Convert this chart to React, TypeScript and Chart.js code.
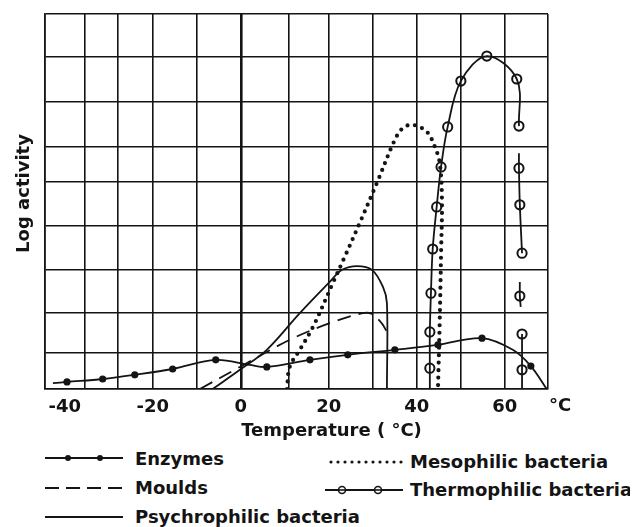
import React, { useEffect, useRef } from 'react';
import { Chart, registerables } from 'chart.js';

Chart.register(...registerables);

// ---- axis definitions ----
const xMin = -44.5;
const xMax = 69.8;
const gridTemps = [-35.5, -28, -20, -10, 0, 11, 20, 30, 40, 50, 60];
const labelTemps = [-40, -20, 0, 20, 40, 60];
const yMin = 0;
const yMax = 9;
const yGridLevels = [0, 0.86, 1.82, 2.86, 3.91, 4.97, 5.81, 6.89, 7.97, 9];

const xTitle = 'Temperature ( °C)';
const yTitle = 'Log activity';
const unitLabel = '°C';

// ---- series: Enzymes ----
const enzymeTemp = [-42.7, -39.5, -31.4, -24.1, -15.5, -5.7, 2.0, 5.9, 15.7, 24.3, 35.0, 44.8, 54.8, 61.8, 65.9, 69.5];
const enzymeAct = [0.14, 0.17, 0.24, 0.34, 0.48, 0.7, 0.58, 0.53, 0.7, 0.82, 0.94, 1.06, 1.22, 0.94, 0.55, 0];
const enzymeMeasured = [false, true, true, true, true, true, false, true, true, true, true, true, true, false, true, false];

// ---- series: Moulds ----
const mouldTemp = [-9.3, -0.2, 11.1, 20.2, 27.7, 29.8, 32.0, 33.2];
const mouldAct = [0, 0.53, 1.18, 1.58, 1.82, 1.8, 1.58, 1.37];

// ---- series: Psychrophilic bacteria ----
const psychroTemp = [-6.4, -0.2, 5.9, 13.4, 20.2, 23.0, 26.4, 29.8, 32.3, 33.2, 33.2];
const psychroAct = [0, 0.46, 0.94, 1.82, 2.57, 2.86, 2.95, 2.86, 2.45, 2.06, 0];

// ---- series: Mesophilic bacteria ----
const mesoTemp = [10.5, 11.1, 13.4, 16.4, 20.9, 23.6, 27.0, 30.9, 35.0, 36.8, 39.1, 42.3, 44.1, 45.2, 45.7, 45.5, 45.2, 44.8];
const mesoAct = [0, 0.53, 0.94, 1.49, 2.54, 3.17, 3.98, 4.94, 5.98, 6.26, 6.34, 6.17, 5.81, 5.42, 4.54, 3.26, 1.66, 0];

// ---- series: Thermophilic bacteria (null = break between drawn segments) ----
const thermoTemp = [42.95, 42.95, 42.95, 43.2, 43.6, 44.5, 45.5, 47.0, 50.0, 55.9, 62.7, 63.2, null, 63.2, 63.2, 63.4, 63.9, null, 63.4, 63.4, 63.6, null, 63.9, 63.9, 63.9];
const thermoAct = [0, 0.5, 1.37, 2.3, 3.36, 4.37, 5.33, 6.29, 7.39, 7.99, 7.44, 6.31, null, 5.66, 5.3, 4.42, 3.26, null, 2.57, 2.23, 1.97, null, 1.32, 0.46, 0];
const thermoMeasured = [false, true, true, true, true, true, true, true, true, true, true, true, false, false, true, true, true, false, false, true, false, false, true, true, false];

const legendNames = ['Enzymes', 'Moulds', 'Psychrophilic bacteria', 'Mesophilic bacteria', 'Thermophilic bacteria'];

const INK = '#141414';
const FONT = '"DejaVu Sans", sans-serif';

const toPoints = (xs: (number | null)[], ys: (number | null)[]) =>
  xs.map((x, i) => ({ x: x as any, y: ys[i] as any }));

const xTickValues = Array.from(new Set([xMin, ...gridTemps, ...labelTemps, xMax])).sort((a, b) => a - b);
const isGridTemp = (v: number) => v === xMin || v === xMax || gridTemps.includes(v);

const textPlugin = {
  id: 'extraText',
  afterDraw(chart: any) {
    const { ctx, chartArea } = chart;
    ctx.save();
    ctx.fillStyle = INK;
    ctx.font = `bold 18px ${FONT}`;
    ctx.textAlign = 'center';
    ctx.textBaseline = 'top';
    ctx.fillText(unitLabel, chartArea.right + 12, chartArea.bottom + 8);
    ctx.textBaseline = 'alphabetic';
    ctx.fillText(xTitle, (chartArea.left + chartArea.right) / 2 + 35, chartArea.bottom + 47);
    ctx.translate(16, (chartArea.top + chartArea.bottom) / 2 - 8);
    ctx.rotate(-Math.PI / 2);
    ctx.textBaseline = 'middle';
    ctx.fillText(yTitle, 0, 0);
    ctx.restore();
  },
};

function LegendText({ x, cy, text }: { x: number; cy: number; text: string }) {
  return (
    <span
      style={{
        position: 'absolute',
        left: x,
        top: cy - 11,
        lineHeight: '22px',
        fontSize: 18,
        fontWeight: 'bold',
        whiteSpace: 'nowrap',
      }}
    >
      {text}
    </span>
  );
}

export default function App() {
  const canvasRef = useRef<HTMLCanvasElement>(null);

  useEffect(() => {
    const canvas = canvasRef.current;
    if (!canvas) return;
    const chart = new Chart(canvas, {
      type: 'scatter',
      data: {
        datasets: [
          {
            label: legendNames[0],
            data: toPoints(enzymeTemp, enzymeAct),
            showLine: true,
            borderColor: INK,
            borderWidth: 1.8,
            tension: 0.35,
            pointRadius: enzymeMeasured.map((m) => (m ? 3.6 : 0)),
            pointBackgroundColor: INK,
            pointBorderColor: INK,
            pointBorderWidth: 0,
          },
          {
            label: legendNames[1],
            data: toPoints(mouldTemp, mouldAct),
            showLine: true,
            borderColor: INK,
            borderWidth: 1.8,
            borderDash: [14, 8],
            tension: 0.35,
            pointRadius: 0,
          },
          {
            label: legendNames[2],
            data: toPoints(psychroTemp, psychroAct),
            showLine: true,
            borderColor: INK,
            borderWidth: 1.8,
            tension: 0.35,
            pointRadius: 0,
          },
          {
            label: legendNames[3],
            data: toPoints(mesoTemp, mesoAct),
            showLine: true,
            borderColor: INK,
            borderWidth: 4.2,
            borderDash: [0, 7.5],
            borderCapStyle: 'round',
            tension: 0.35,
            pointRadius: 0,
          },
          {
            label: legendNames[4],
            data: toPoints(thermoTemp, thermoAct),
            showLine: true,
            spanGaps: false,
            borderColor: INK,
            borderWidth: 1.8,
            tension: 0.35,
            pointRadius: thermoMeasured.map((m) => (m ? 4.6 : 0)),
            pointBackgroundColor: 'rgba(0,0,0,0)',
            pointBorderColor: INK,
            pointBorderWidth: 2,
          },
        ] as any,
      },
      options: {
        animation: false,
        responsive: false,
        events: [],
        layout: { padding: { left: 0, right: 82, top: 6, bottom: 0 } },
        plugins: {
          legend: { display: false },
          tooltip: { enabled: false },
          title: { display: false },
        },
        scales: {
          x: {
            type: 'linear',
            min: xMin,
            max: xMax,
            afterBuildTicks: (s: any) => {
              s.ticks = xTickValues.map((v) => ({ value: v }));
            },
            afterFit: (s: any) => {
              s.height = 55;
            },
            ticks: {
              autoSkip: false,
              maxRotation: 0,
              minRotation: 0,
              padding: 8,
              color: INK,
              font: { family: FONT, size: 18, weight: 'bold' },
              callback: (v: any) => (labelTemps.includes(v) ? String(v) : ''),
            },
            grid: {
              drawTicks: false,
              color: (c: any) => (c.tick && isGridTemp(c.tick.value) ? INK : 'rgba(0,0,0,0)'),
              lineWidth: (c: any) => (c.tick && c.tick.value === 0 ? 2.6 : 1.6),
            },
            border: { display: true, color: INK, width: 1.6 },
          },
          y: {
            type: 'linear',
            min: yMin,
            max: yMax,
            afterBuildTicks: (s: any) => {
              s.ticks = yGridLevels.map((v) => ({ value: v }));
            },
            afterFit: (s: any) => {
              s.width = 37;
            },
            ticks: { display: false },
            grid: { drawTicks: false, color: INK, lineWidth: 1.6 },
            border: { display: true, color: INK, width: 1.6 },
          },
        },
      } as any,
      plugins: [textPlugin],
    });
    return () => chart.destroy();
  }, []);

  return (
    <div style={{ position: 'relative', width: 622, height: 519, fontFamily: FONT, color: INK }}>
      <canvas ref={canvasRef} width={622} height={436} style={{ display: 'block' }} />

      {/* Legend samples */}
      <svg style={{ position: 'absolute', left: 0, top: 436 }} width={622} height={83}>
        {/* Enzymes */}
        <line x1={37} x2={115} y1={14} y2={14} stroke={INK} strokeWidth={2} />
        <circle cx={60} cy={14} r={3} fill={INK} />
        <circle cx={92} cy={14} r={3} fill={INK} />
        {/* Moulds */}
        <line x1={37} x2={115} y1={44} y2={44} stroke={INK} strokeWidth={2} strokeDasharray="14 7" />
        {/* Psychrophilic */}
        <line x1={37} x2={115} y1={73} y2={73} stroke={INK} strokeWidth={2} />
        {/* Mesophilic */}
        <line x1={323} x2={394} y1={18} y2={18} stroke={INK} strokeWidth={3.2} strokeDasharray="0 7" strokeLinecap="round" />
        {/* Thermophilic */}
        <line x1={317} x2={395} y1={46} y2={46} stroke={INK} strokeWidth={2} />
        <circle cx={334} cy={46} r={3.5} fill="#fff" stroke={INK} strokeWidth={1.6} />
        <circle cx={370} cy={46} r={3.5} fill="#fff" stroke={INK} strokeWidth={1.6} />
        <line x1={330} x2={338} y1={46} y2={46} stroke={INK} strokeWidth={1.6} />
        <line x1={366} x2={374} y1={46} y2={46} stroke={INK} strokeWidth={1.6} />
      </svg>
      <LegendText x={127} cy={451} text={legendNames[0]} />
      <LegendText x={127} cy={480} text={legendNames[1]} />
      <LegendText x={127} cy={509} text={legendNames[2]} />
      <LegendText x={402} cy={454} text={legendNames[3]} />
      <LegendText x={402} cy={482} text={legendNames[4]} />
    </div>
  );
}
